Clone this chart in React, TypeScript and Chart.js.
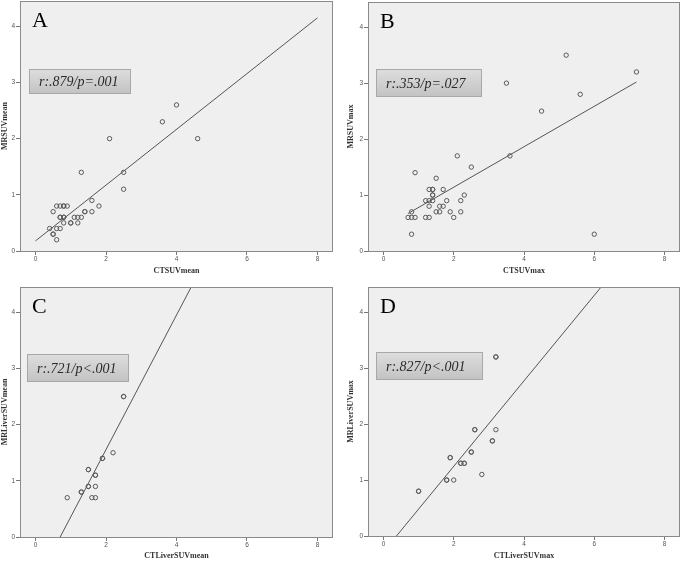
import React, { useEffect, useRef } from "react";
import { Chart, registerables } from "chart.js";

Chart.register(...registerables);

// ---- Data ----
const xTicks = [0, 2, 4, 6, 8];
const yTicks = [0, 1, 2, 3, 4];

// Panel A: CTSUVmean vs MRSUVmean
const aX = [4.0, 3.6, 4.6, 2.1, 1.3, 2.5, 2.5, 1.6, 1.8, 0.6, 0.7, 0.8, 0.8, 0.9, 1.6, 1.4, 1.4, 0.5, 0.7, 0.7, 0.8, 0.8, 1.1, 1.2, 1.3, 1.0, 1.0, 1.2, 0.8, 0.4, 0.6, 0.7, 0.5, 0.5, 0.6];
const aY = [2.6, 2.3, 2.0, 2.0, 1.4, 1.4, 1.1, 0.9, 0.8, 0.8, 0.8, 0.8, 0.8, 0.8, 0.7, 0.7, 0.7, 0.7, 0.6, 0.6, 0.6, 0.6, 0.6, 0.6, 0.6, 0.5, 0.5, 0.5, 0.5, 0.4, 0.4, 0.4, 0.3, 0.3, 0.2];
const aFitX = [0, 8];
const aFitY = [0.18, 4.15];

// Panel B: CTSUVmax vs MRSUVmax
const bX = [5.2, 7.2, 3.5, 5.6, 4.5, 2.1, 3.6, 2.5, 0.9, 1.5, 1.3, 1.4, 1.4, 1.7, 1.4, 1.4, 2.3, 1.2, 1.3, 1.4, 1.8, 2.2, 1.3, 1.6, 1.7, 0.8, 1.5, 1.6, 1.9, 2.2, 0.7, 0.8, 0.9, 1.2, 1.3, 2.0, 0.8, 6.0];
const bY = [3.5, 3.2, 3.0, 2.8, 2.5, 1.7, 1.7, 1.5, 1.4, 1.3, 1.1, 1.1, 1.1, 1.1, 1.0, 1.0, 1.0, 0.9, 0.9, 0.9, 0.9, 0.9, 0.8, 0.8, 0.8, 0.7, 0.7, 0.7, 0.7, 0.7, 0.6, 0.6, 0.6, 0.6, 0.6, 0.6, 0.3, 0.3];
const bFitX = [0.7, 7.2];
const bFitY = [0.67, 3.02];

// Panel C: CTLiverSUVmean vs MRLiverSUVmean
const cX = [2.5, 2.5, 2.2, 1.9, 1.9, 1.5, 1.5, 1.7, 1.7, 1.5, 1.5, 1.7, 1.3, 1.3, 0.9, 1.6, 1.7];
const cY = [2.5, 2.5, 1.5, 1.4, 1.4, 1.2, 1.2, 1.1, 1.1, 0.9, 0.9, 0.9, 0.8, 0.8, 0.7, 0.7, 0.7];
const cFitX = [0, 8];
const cFitY = [-0.838, 8.738];

// Panel D: CTLiverSUVmax vs MRLiverSUVmax
const dX = [3.2, 3.2, 2.6, 2.6, 3.2, 3.1, 3.1, 2.5, 2.5, 1.9, 1.9, 2.2, 2.2, 2.3, 2.3, 2.8, 1.8, 1.8, 2.0, 1.0, 1.0];
const dY = [3.2, 3.2, 1.9, 1.9, 1.9, 1.7, 1.7, 1.5, 1.5, 1.4, 1.4, 1.3, 1.3, 1.3, 1.3, 1.1, 1.0, 1.0, 1.0, 0.8, 0.8];
const dFitX = [0, 8];
const dFitY = [-0.283, 5.829];

type PanelCfg = {
  key: string;
  left: number; top: number; w: number; h: number;
  padTop: number; padRight: number;
  yw: number; xh: number;
  xTitle: string; yTitle: string;
  xTitlePad: number; yTitlePad: number;
  letter: string; stat: string;
  box: [number, number, number, number];
  xs: number[]; ys: number[]; fx: number[]; fy: number[];
};

const panels: PanelCfg[] = [
  { key: "A", left: 0, top: 0, w: 341, h: 280, padTop: 1, padRight: 8, yw: 20, xh: 29,
    xTitle: "CTSUVmean", yTitle: "MRSUVmean", xTitlePad: 4.5, yTitlePad: 0,
    letter: "A", stat: "r:.879/p=.001", box: [9, 68, 102, 25], xs: aX, ys: aY, fx: aFitX, fy: aFitY },
  { key: "B", left: 341, top: 0, w: 341, h: 280, padTop: 2, padRight: 2, yw: 27, xh: 29,
    xTitle: "CTSUVmax", yTitle: "MRSUVmax", xTitlePad: 4.5, yTitlePad: 5,
    letter: "B", stat: "r:.353/p=.027", box: [8, 67, 106, 28], xs: bX, ys: bY, fx: bFitX, fy: bFitY },
  { key: "C", left: 0, top: 280, w: 341, h: 281, padTop: 7, padRight: 8, yw: 20, xh: 24,
    xTitle: "CTLiverSUVmean", yTitle: "MRLiverSUVmean", xTitlePad: 0.2, yTitlePad: 0,
    letter: "C", stat: "r:.721/p<.001", box: [7, 67, 102, 28], xs: cX, ys: cY, fx: cFitX, fy: cFitY },
  { key: "D", left: 341, top: 280, w: 341, h: 281, padTop: 7, padRight: 2, yw: 27, xh: 25,
    xTitle: "CTLiverSUVmax", yTitle: "MRLiverSUVmax", xTitlePad: 0.2, yTitlePad: 5,
    letter: "D", stat: "r:.827/p<.001", box: [8, 65, 107, 28], xs: dX, ys: dY, fx: dFitX, fy: dFitY },
];

function Panel({ cfg }: { cfg: PanelCfg }) {
  const ref = useRef<HTMLCanvasElement | null>(null);
  useEffect(() => {
    if (!ref.current) return;
    const frame = {
      id: "frame" + cfg.key,
      beforeDraw(chart: any) {
        const { ctx, chartArea: a } = chart;
        ctx.save();
        ctx.fillStyle = "#efefef";
        ctx.fillRect(a.left, a.top, a.right - a.left, a.bottom - a.top);
        ctx.restore();
      },
      afterDraw(chart: any) {
        const { ctx, chartArea: a } = chart;
        ctx.save();
        ctx.strokeStyle = "#8a8a8a";
        ctx.lineWidth = 1;
        ctx.strokeRect(Math.round(a.left) + 0.5, Math.round(a.top) + 0.5, Math.round(a.right - a.left) - 1, Math.round(a.bottom - a.top));
        // stat box
        const [bx, by, bw, bh] = cfg.box;
        const x0 = a.left + bx, y0 = a.top + by;
        const g = ctx.createLinearGradient(0, y0, 0, y0 + bh);
        g.addColorStop(0, "#dedede");
        g.addColorStop(1, "#c2c2c2");
        ctx.fillStyle = g;
        ctx.fillRect(x0, y0, bw, bh);
        ctx.strokeStyle = "#a8a8a8";
        ctx.strokeRect(x0 + 0.5, y0 + 0.5, bw - 1, bh - 1);
        ctx.fillStyle = "#2a2a2a";
        ctx.font = "italic 14px 'Liberation Serif'";
        ctx.textBaseline = "middle";
        ctx.textAlign = "left";
        ctx.fillText(cfg.stat, x0 + 10, y0 + bh / 2 + 1);
        // panel letter
        ctx.fillStyle = "#000";
        ctx.font = "22px 'Liberation Serif'";
        ctx.textBaseline = "alphabetic";
        ctx.fillText(cfg.letter, a.left + 12, a.top + 26);
        ctx.restore();
      },
    };
    const tickFont = { family: "'Liberation Sans'", size: 6.5 };
    const titleFont = { family: "'Liberation Serif'", size: 8, weight: "bold" as const };
    const chart = new Chart(ref.current, {
      type: "scatter",
      data: {
        datasets: [
          {
            data: cfg.xs.map((x, i) => ({ x, y: cfg.ys[i] })),
            pointRadius: 2.2,
            pointBorderWidth: 1,
            pointBorderColor: "#5a5a5a",
            pointBackgroundColor: "rgba(0,0,0,0)",
            showLine: false,
          },
          {
            data: cfg.fx.map((x, i) => ({ x, y: cfg.fy[i] })),
            showLine: true,
            borderColor: "#555",
            borderWidth: 1,
            pointRadius: 0,
            fill: false,
          },
        ],
      },
      options: {
        animation: false,
        responsive: false,
        devicePixelRatio: 1,
        layout: { autoPadding: false, padding: { left: 0, top: cfg.padTop, right: cfg.padRight, bottom: 0 } },
        plugins: { legend: { display: false }, tooltip: { enabled: false } },
        scales: {
          x: {
            type: "linear",
            min: -0.44,
            max: 8.44,
            afterFit: (s: any) => { s.height = cfg.xh; s.paddingLeft = 0; s.paddingRight = 0; },
            afterBuildTicks: (s: any) => { s.ticks = xTicks.map((v) => ({ value: v })); },
            ticks: { font: tickFont, color: "#555", padding: 0, maxRotation: 0, callback: (v: any) => String(v) },
            grid: { drawOnChartArea: false, drawTicks: true, tickLength: 4, color: "#777" },
            border: { display: false },
            title: { display: true, text: cfg.xTitle, font: titleFont, color: "#333", padding: { top: 0, bottom: cfg.xTitlePad } },
          },
          y: {
            type: "linear",
            min: 0,
            max: 4.45,
            afterFit: (s: any) => { s.width = cfg.yw; s.paddingTop = 0; s.paddingBottom = 0; },
            afterBuildTicks: (s: any) => { s.ticks = yTicks.map((v) => ({ value: v })); },
            ticks: { font: tickFont, color: "#555", padding: 1, callback: (v: any) => String(v) },
            grid: { drawOnChartArea: false, drawTicks: true, tickLength: 4, color: "#777" },
            border: { display: false },
            title: { display: true, text: cfg.yTitle, font: titleFont, color: "#333", padding: { top: cfg.yTitlePad, bottom: 0 } },
          },
        },
      },
      plugins: [frame],
    });
    return () => chart.destroy();
  }, [cfg]);
  return (
    <canvas
      ref={ref}
      width={cfg.w}
      height={cfg.h}
      style={{ position: "absolute", left: cfg.left, top: cfg.top, width: cfg.w, height: cfg.h, display: "block" }}
    />
  );
}

export default function App() {
  return (
    <div style={{ position: "absolute", left: 0, top: 0, width: 682, height: 561, background: "#fff", overflow: "hidden" }}>
      {panels.map((p) => (
        <Panel key={p.key} cfg={p} />
      ))}
    </div>
  );
}
